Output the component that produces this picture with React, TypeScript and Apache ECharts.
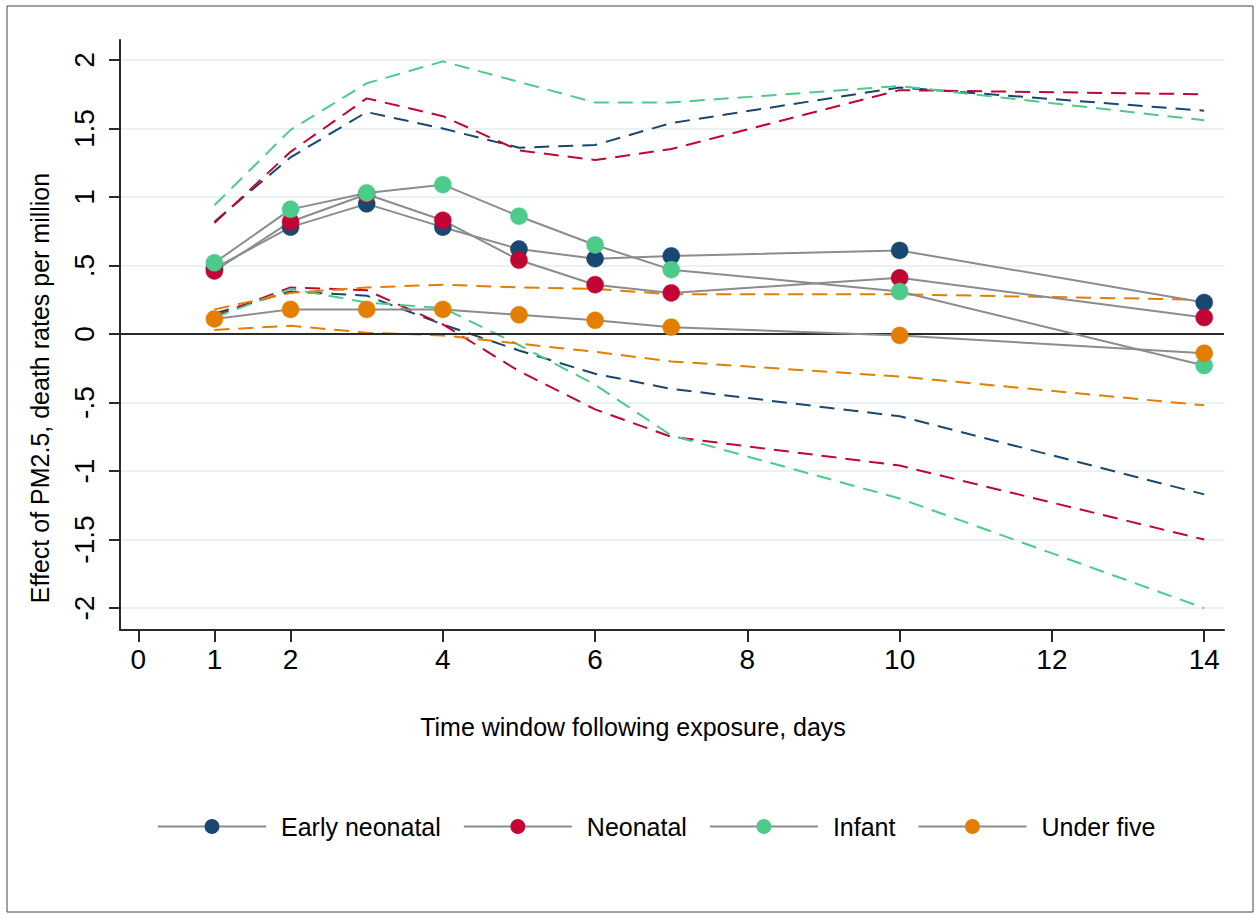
import React, { useEffect, useRef } from "react";
import * as echarts from "echarts";

const days = [1, 2, 3, 4, 5, 6, 7, 10, 14];
const xTicks = [0, 1, 2, 4, 6, 8, 10, 12, 14];
const yTicks = [-2, -1.5, -1, -0.5, 0, 0.5, 1, 1.5, 2];

const groups = ["Early neonatal", "Neonatal", "Infant", "Under five"];
const colors = ["#1a476f", "#c10534", "#4ccb8b", "#e37e00"];

const earlyNeonatal = [0.48, 0.78, 0.95, 0.78, 0.62, 0.55, 0.57, 0.61, 0.23];
const neonatal = [0.46, 0.82, 1.02, 0.83, 0.54, 0.36, 0.3, 0.41, 0.12];
const infant = [0.52, 0.91, 1.03, 1.09, 0.86, 0.65, 0.47, 0.31, -0.23];
const underFive = [0.11, 0.18, 0.18, 0.18, 0.14, 0.1, 0.05, -0.01, -0.14];

const earlyUpper = [0.82, 1.29, 1.62, 1.5, 1.36, 1.38, 1.54, 1.8, 1.63];
const neonatalUpper = [0.81, 1.33, 1.72, 1.59, 1.34, 1.27, 1.35, 1.78, 1.75];
const infantUpper = [0.94, 1.49, 1.83, 1.99, 1.84, 1.69, 1.69, 1.81, 1.56];
const underFiveUpper = [0.18, 0.3, 0.34, 0.36, 0.34, 0.33, 0.29, 0.29, 0.25];

const earlyLower = [0.15, 0.31, 0.28, 0.07, -0.12, -0.29, -0.4, -0.6, -1.17];
const neonatalLower = [0.13, 0.34, 0.32, 0.07, -0.27, -0.55, -0.75, -0.96, -1.5];
const infantLower = [0.12, 0.33, 0.23, 0.19, -0.08, -0.37, -0.74, -1.2, -2.0];
const underFiveLower = [0.03, 0.06, 0.01, -0.01, -0.07, -0.13, -0.2, -0.31, -0.52];

const estimates = [earlyNeonatal, neonatal, infant, underFive];
const uppers = [earlyUpper, neonatalUpper, infantUpper, underFiveUpper];
const lowers = [earlyLower, neonatalLower, infantLower, underFiveLower];

const FONT = "'Liberation Sans', Arial, Helvetica, sans-serif";

const pairs = (vals: number[]) => days.map((d, i) => [d, vals[i]]);

const fmtY = (v: number) => {
  if (v === 0) return "0";
  const s = String(v);
  return s.replace(/^0\./, ".").replace(/^-0\./, "-.");
};

export default function App() {
  const ref = useRef<HTMLDivElement>(null);
  useEffect(() => {
    if (!ref.current) return;
    const chart = echarts.init(ref.current, null, { renderer: "svg" });

    const dashed: any[] = [];
    groups.forEach((g, gi) => {
      [uppers[gi], lowers[gi]].forEach((arr, k) => {
        dashed.push({
          name: g + (k === 0 ? " upper" : " lower"),
          type: "line",
          data: pairs(arr),
          showSymbol: false,
          symbol: "none",
          silent: true,
          z: 2,
          lineStyle: { color: colors[gi], width: 2, type: [15, 9] },
        });
      });
    });

    const points = groups.map((g, gi) => ({
      name: g,
      type: "line",
      data: pairs(estimates[gi]),
      symbol: "circle",
      symbolSize: 17,
      z: 4,
      lineStyle: { color: "#8c8c8c", width: 2 },
      itemStyle: { color: colors[gi], borderColor: colors[gi], borderWidth: 0.5, opacity: 1 },
      ...(gi === 0
        ? {
            markLine: {
              silent: true,
              symbol: "none",
              label: { show: false },
              lineStyle: { color: "#2a2a2a", width: 2, type: "solid" },
              data: [{ yAxis: 0 }],
              z: 3,
            },
          }
        : {}),
    }));

    chart.setOption({
      animation: false,
      backgroundColor: "#ffffff",
      grid: { left: 120, right: 35, top: 40, bottom: 284, containLabel: false },
      xAxis: {
        type: "value",
        min: -0.24,
        max: 14.26,
        axisLine: { show: true, onZero: false, lineStyle: { color: "#2a2a2a", width: 2 } },
        axisTick: { show: true, length: 12, customValues: xTicks, lineStyle: { color: "#2a2a2a", width: 2 } },
        axisLabel: {
          customValues: xTicks,
          fontSize: 28,
          fontFamily: FONT,
          color: "#000",
          margin: 15,
        },
        splitLine: { show: false },
      },
      yAxis: {
        type: "value",
        min: -2.16,
        max: 2.146,
        axisLine: { show: true, onZero: false, lineStyle: { color: "#2a2a2a", width: 2 } },
        axisTick: { show: true, length: 11, customValues: yTicks, lineStyle: { color: "#2a2a2a", width: 2 } },
        axisLabel: {
          customValues: yTicks,
          rotate: 90,
          fontSize: 28,
          fontFamily: FONT,
          color: "#000",
          margin: 22,
          formatter: (v: number) => fmtY(v),
        },
        splitLine: { show: true, lineStyle: { color: "#eaf2f3", width: 2 } },
      },
      legend: {
        data: groups,
        left: 152,
        top: 809,
        orient: "horizontal",
        itemWidth: 108,
        itemHeight: 16,
        itemGap: 22,
        textStyle: { fontSize: 25, fontFamily: FONT, color: "#000", padding: [0, 0, 0, 10] },
      },
      graphic: [
        {
          type: "rect",
          shape: { x: 7, y: 6, width: 1246, height: 906 },
          style: { fill: "none", stroke: "#444", lineWidth: 1 },
          silent: true,
        },
        {
          type: "text",
          x: 633,
          y: 727,
          style: {
            text: "Time window following exposure, days",
            font: `25px ${FONT}`,
            fill: "#000",
            textAlign: "center",
            textVerticalAlign: "middle",
          },
        },
        {
          type: "text",
          x: 40,
          y: 388,
          rotation: Math.PI / 2,
          style: {
            text: "Effect of PM2.5, death rates per million",
            font: `25px ${FONT}`,
            fill: "#000",
            textAlign: "center",
            textVerticalAlign: "middle",
          },
        },
      ],
      series: [...dashed, ...points],
    });
    return () => chart.dispose();
  }, []);
  return (
    <div
      ref={ref}
      style={{ position: "fixed", left: 0, top: 0, width: 1259, height: 914, background: "#fff" }}
    />
  );
}
